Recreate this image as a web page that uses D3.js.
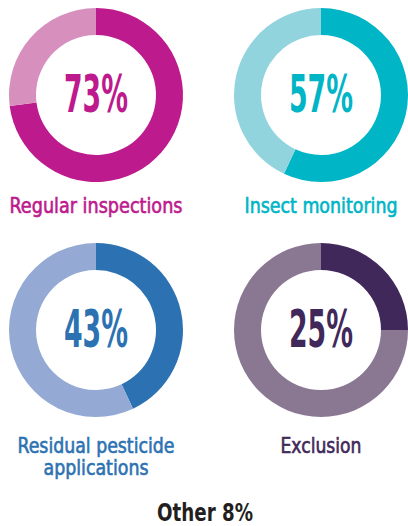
<!DOCTYPE html>
<html>
<head>
<meta charset="utf-8">
<script src="https://cdn.jsdelivr.net/npm/d3@7"></script>
<style>
  html, body { margin: 0; padding: 0; background: #ffffff; }
  svg { display: block; }
  text { font-family: "Liberation Sans Narrow", "DejaVu Sans Condensed", "Roboto", sans-serif; }
</style>
</head>
<body>
<svg id="chart" width="408" height="526"></svg>
<script>
// ---- data ----
const categories = ["Regular inspections", "Insect monitoring", "Residual pesticide applications", "Exclusion"];
const labelLines = [["Regular inspections"], ["Insect monitoring"], ["Residual pesticide", "applications"], ["Exclusion"]];
const percentages = [73, 57, 43, 25];
const otherLabel = "Other";
const otherValue = 8;

// ---- styles ----
const darkColors = ["#bd1a8d", "#00b5c6", "#2c72b2", "#41285a"];
const lightColors = ["#d78fbe", "#91d4de", "#94aad4", "#8a7893"];
const centers = [[96, 95], [321, 95], [96, 330], [321, 330]];
const labelBaselines = [[213], [213], [453, 475], [453]];
const labelWidths = [[173], [153], [157, 105], [81]];
const outerR = 87, innerR = 60;

const svg = d3.select("#chart");
const pie = d3.pie().sort(null).value(d => d);
const arc = d3.arc().innerRadius(innerR).outerRadius(outerR);

percentages.forEach((p, i) => {
  const g = svg.append("g").attr("transform", `translate(${centers[i][0]},${centers[i][1]})`);
  const arcs = pie([p, 100 - p]);
  g.selectAll("path").data(arcs).enter().append("path")
    .attr("d", arc)
    .attr("fill", (d, j) => j === 0 ? darkColors[i] : lightColors[i]);
  g.append("text")
    .attr("x", 0).attr("y", 17)
    .attr("text-anchor", "middle")
    .attr("font-weight", "bold")
    .attr("font-size", 52)
    .attr("textLength", 64)
    .attr("lengthAdjust", "spacingAndGlyphs")
    .attr("fill", darkColors[i])
    .text(p + "%");
  labelLines[i].forEach((line, k) => {
    svg.append("text")
      .attr("x", centers[i][0])
      .attr("y", labelBaselines[i][k])
      .attr("text-anchor", "middle")
      .attr("font-size", 21)
      .attr("textLength", labelWidths[i][k])
      .attr("lengthAdjust", "spacingAndGlyphs")
      .attr("fill", darkColors[i])
      .attr("stroke", darkColors[i])
      .attr("stroke-width", 0.6)
      .text(line);
  });
});

svg.append("text")
  .attr("x", 205).attr("y", 521)
  .attr("text-anchor", "middle")
  .attr("font-weight", "bold")
  .attr("font-size", 25)
  .attr("textLength", 96)
  .attr("lengthAdjust", "spacingAndGlyphs")
  .attr("fill", "#231f20")
  .text(otherLabel + " " + otherValue + "%");
</script>
</body>
</html>
